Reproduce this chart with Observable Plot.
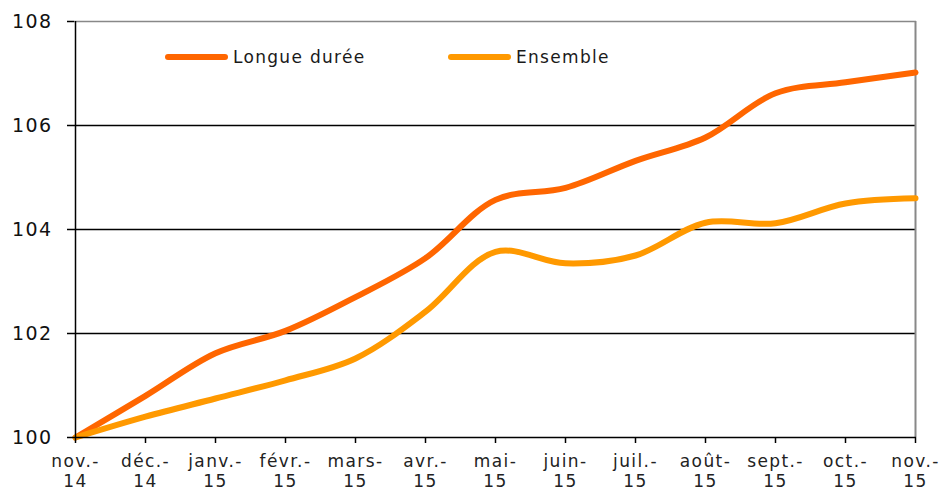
<!DOCTYPE html>
<html>
<head>
<meta charset="utf-8">
<script src="https://cdn.jsdelivr.net/npm/d3@7"></script>
<script src="https://cdn.jsdelivr.net/npm/@observablehq/plot@0.6"></script>
<style>
  html, body { margin: 0; padding: 0; background: #fff; }
  #wrap { position: relative; width: 943px; height: 494px; }
  #legend { position: absolute; left: 0; top: 0; width: 943px; height: 100px; pointer-events: none;
    font-family: "DejaVu Sans", sans-serif; font-size: 17px; letter-spacing: 1.3px; color: #1a1a1a; }
  .item { position: absolute; top: 47px; display: flex; align-items: center; }
  .sw { width: 63px; height: 6px; border-radius: 3px; margin-right: 5px; }
</style>
</head>
<body>
<div id="wrap">
  <div id="chart"></div>
  <div id="legend"></div>
</div>
<script>
const months = ["nov.-\n14","déc.-\n14","janv.-\n15","févr.-\n15","mars-\n15","avr.-\n15","mai-\n15","juin-\n15","juil.-\n15","août-\n15","sept.-\n15","oct.-\n15","nov.-\n15"];
const longueDuree = [100, 100.8, 101.62, 102.05, 102.7, 103.45, 104.57, 104.8, 105.32, 105.77, 106.62, 106.83, 107.02];
const ensemble = [100, 100.4, 100.75, 101.1, 101.52, 102.42, 103.57, 103.35, 103.5, 104.13, 104.12, 104.5, 104.6];
const seriesNames = ["Longue durée", "Ensemble"];
const seriesColors = ["#FF6600", "#FF9900"];
const yTicks = [100, 102, 104, 106, 108];

const rows = [];
months.forEach((m, i) => {
  rows.push({month: m, value: longueDuree[i], series: seriesNames[0]});
  rows.push({month: m, value: ensemble[i], series: seriesNames[1]});
});

const chart = Plot.plot({
  width: 943,
  height: 494,
  marginLeft: 74,
  marginRight: 27,
  marginTop: 21,
  marginBottom: 57,
  style: {fontFamily: "DejaVu Sans, sans-serif", fontSize: "17px", color: "#222", letterSpacing: "1.4px"},
  x: {type: "point", domain: months, padding: 0},
  y: {domain: [100, 108]},
  color: {domain: seriesNames, range: seriesColors},
  marks: [
    Plot.ruleY([102, 104, 106], {stroke: "#000", strokeWidth: 1.5}),
    Plot.ruleY([108], {stroke: "#888", strokeWidth: 1.5}),
    Plot.ruleX([months[months.length - 1]], {stroke: "#888", strokeWidth: 2}),
    Plot.line(rows, {x: "month", y: "value", z: "series", stroke: "series", strokeWidth: 6, curve: "catmull-rom"}),
    Plot.ruleX([months[0]], {stroke: "#000", strokeWidth: 1.5}),
    Plot.ruleY([100], {stroke: "#000", strokeWidth: 1.5}),
    Plot.axisY({ticks: yTicks, tickSize: 7, tickPadding: 15, stroke: "#000", strokeWidth: 1.5, label: null, fill: "#111", fontSize: 19, letterSpacing: "0.5px"}),
    Plot.axisX({tickSize: 6, tickPadding: 10, stroke: "#000", strokeWidth: 1.5, label: null, lineHeight: 1.15, fill: "#222"})
  ]
});
document.getElementById("chart").appendChild(chart);

const legend = document.getElementById("legend");
const legendLeft = [165, 448];
seriesNames.forEach((name, i) => {
  const it = document.createElement("div");
  it.className = "item";
  it.style.left = legendLeft[i] + "px";
  const sw = document.createElement("div");
  sw.className = "sw";
  sw.style.background = seriesColors[i];
  const t = document.createElement("span");
  t.textContent = name;
  it.appendChild(sw);
  it.appendChild(t);
  legend.appendChild(it);
});
</script>
</body>
</html>
